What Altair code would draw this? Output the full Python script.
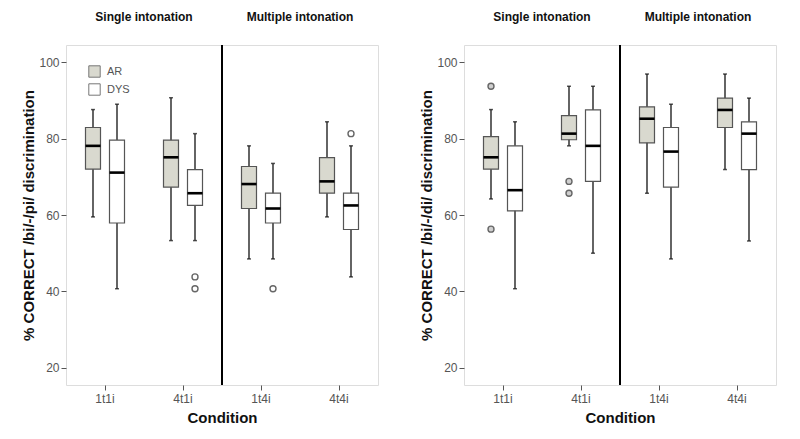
import altair as alt
import pandas as pd

conditions = ["1t1i", "4t1i", "1t4i", "4t4i"]
groups = ["AR", "DYS"]
sections = ["Single intonation", "Multiple intonation"]
section_anchor = ["4t1i", "4t4i"]

# Panel 1: /bi/-/pi/   order: 1t1i AR, 1t1i DYS, 4t1i AR, 4t1i DYS, 1t4i AR, 1t4i DYS, 4t4i AR, 4t4i DYS
p1_wlo = [59.5, 40.7, 53.3, 53.3, 48.5, 48.5, 59.5, 43.8]
p1_q1 = [72.0, 57.9, 67.3, 62.5, 61.7, 57.9, 65.7, 56.2]
p1_med = [78.1, 71.1, 75.1, 65.7, 68.1, 61.7, 68.8, 62.5]
p1_q3 = [82.9, 79.6, 79.6, 71.9, 72.7, 65.7, 75.0, 65.7]
p1_whi = [87.6, 89.0, 90.7, 81.3, 78.1, 73.5, 84.4, 78.1]
p1_out_cond = ["4t1i", "4t1i", "1t4i", "4t4i"]
p1_out_group = ["DYS", "DYS", "DYS", "DYS"]
p1_out_val = [43.8, 40.7, 40.7, 81.3]

# Panel 2: /bi/-/di/
p2_wlo = [64.2, 40.7, 78.1, 50.0, 65.7, 48.5, 71.9, 53.2]
p2_q1 = [72.0, 61.1, 79.7, 68.8, 78.9, 67.3, 82.9, 71.9]
p2_med = [75.1, 66.5, 81.3, 78.1, 85.2, 76.6, 87.5, 81.3]
p2_q3 = [80.5, 78.1, 86.0, 87.5, 88.3, 82.9, 90.6, 84.4]
p2_whi = [87.6, 84.4, 93.7, 93.7, 96.9, 89.0, 96.9, 90.6]
p2_out_cond = ["1t1i", "1t1i", "4t1i", "4t1i"]
p2_out_group = ["AR", "AR", "AR", "AR"]
p2_out_val = [93.7, 56.3, 68.8, 65.7]

FONT = "Liberation Sans"
W, H = 312, 340


def panel(wlo, q1, med, q3, whi, oc, og, ov, ytitle, out_fill, show_legend):
    conds = [c for c in conditions for _ in groups]
    grps = [g for _ in conditions for g in groups]
    df = pd.DataFrame({"cond": conds, "group": grps, "wlo": wlo, "q1": q1,
                       "med": med, "q3": q3, "whi": whi})
    dout = pd.DataFrame({"cond": oc, "group": og, "val": ov})
    dsec = pd.DataFrame({"sec": sections, "cond": section_anchor})
    ddiv = pd.DataFrame({"cond": ["1t4i"]})

    x = alt.X("cond:N", sort=conditions, title="Condition",
              scale=alt.Scale(domain=conditions, paddingInner=0, paddingOuter=0),
              axis=alt.Axis(labelAngle=0, labelFont=FONT, labelFontSize=12,
                            labelColor="#555555", tickColor="#555555", tickSize=5,
                            domain=False, titleFont=FONT, titleFontSize=15,
                            titleFontWeight="bold", titleColor="#111111",
                            titlePadding=6, labelPadding=3))
    xo = alt.XOffset("group:N", sort=groups,
                     scale=alt.Scale(domain=groups, paddingOuter=0.8125, paddingInner=0.375))
    yscale = alt.Scale(domain=[15.5, 104.5], nice=False, zero=False)
    yaxis = alt.Axis(values=[20, 40, 60, 80, 100], grid=False, domain=False,
                     labelFont=FONT, labelFontSize=12, labelColor="#555555",
                     tickColor="#555555", tickSize=5, titleFont=FONT,
                     titleFontSize=15, titleFontWeight="bold", titleColor="#111111",
                     titlePadding=2, labelPadding=2)

    base = alt.Chart(df)
    whisk = base.mark_rule(color="#111111", strokeWidth=1.3).encode(
        x=x, xOffset=xo, y=alt.Y("wlo:Q", scale=yscale, axis=yaxis, title=ytitle),
        y2="whi:Q")
    caps_lo = base.mark_tick(color="#111111", thickness=1.5, size=4).encode(
        x=x, xOffset=xo, y="wlo:Q")
    caps_hi = base.mark_tick(color="#111111", thickness=1.5, size=4).encode(
        x=x, xOffset=xo, y="whi:Q")
    fill_kw = dict(scale=alt.Scale(domain=groups, range=["#d9d9cf", "#ffffff"]))
    if show_legend:
        legend = alt.Legend(orient="none", legendX=22, legendY=20, title=None,
                            symbolType="square", symbolSize=130,
                            symbolStrokeColor="#777777", symbolStrokeWidth=1,
                            labelFont=FONT, labelFontSize=11, labelColor="#555555",
                            rowPadding=1, labelOffset=6)
        fill = alt.Fill("group:N", legend=legend, **fill_kw)
    else:
        fill = alt.Fill("group:N", legend=None, **fill_kw)
    box = base.mark_bar(stroke="#555555", strokeWidth=1.2).encode(
        x=x, xOffset=xo, y="q1:Q", y2="q3:Q", fill=fill)
    medt = base.mark_tick(color="#000000", thickness=2.6, size=15, opacity=1).encode(
        x=x, xOffset=xo, y="med:Q")
    outl = alt.Chart(dout).mark_point(shape="circle", size=36, stroke="#666666",
                                      strokeWidth=1.4, fill=out_fill, opacity=1,
                                      filled=False).encode(
        x=alt.X("cond:N", sort=conditions), xOffset=alt.XOffset("group:N", sort=groups),
        y="val:Q")
    divider = alt.Chart(ddiv).mark_rule(color="#000000", strokeWidth=2).encode(
        x=alt.X("cond:N", bandPosition=0, sort=conditions), y=alt.value(0), y2=alt.value(H))
    sec = alt.Chart(dsec).mark_text(font=FONT, fontSize=12, fontWeight="bold",
                                    color="#111111").encode(
        x=alt.X("cond:N", bandPosition=0, sort=conditions), y=alt.value(-28), text="sec:N")
    return alt.layer(whisk, caps_lo, caps_hi, box, medt, outl, divider, sec).properties(
        width=W, height=H)


left = panel(p1_wlo, p1_q1, p1_med, p1_q3, p1_whi, p1_out_cond, p1_out_group, p1_out_val,
             "% CORRECT /bi/-/pi/ discrimination", "#ffffff", True)
right = panel(p2_wlo, p2_q1, p2_med, p2_q3, p2_whi, p2_out_cond, p2_out_group, p2_out_val,
              "% CORRECT /bi/-/di/ discrimination", "#cfcfcf", False)

chart = alt.hconcat(left, right, spacing=40).resolve_scale(fill="independent").properties(
    padding={"left": 13, "top": 2, "right": 5, "bottom": 5}).configure_view(
    stroke="#555555", strokeWidth=1.5).configure(background="#ffffff")

chart.save("out.html", embed_options={"renderer": "svg", "actions": False})
